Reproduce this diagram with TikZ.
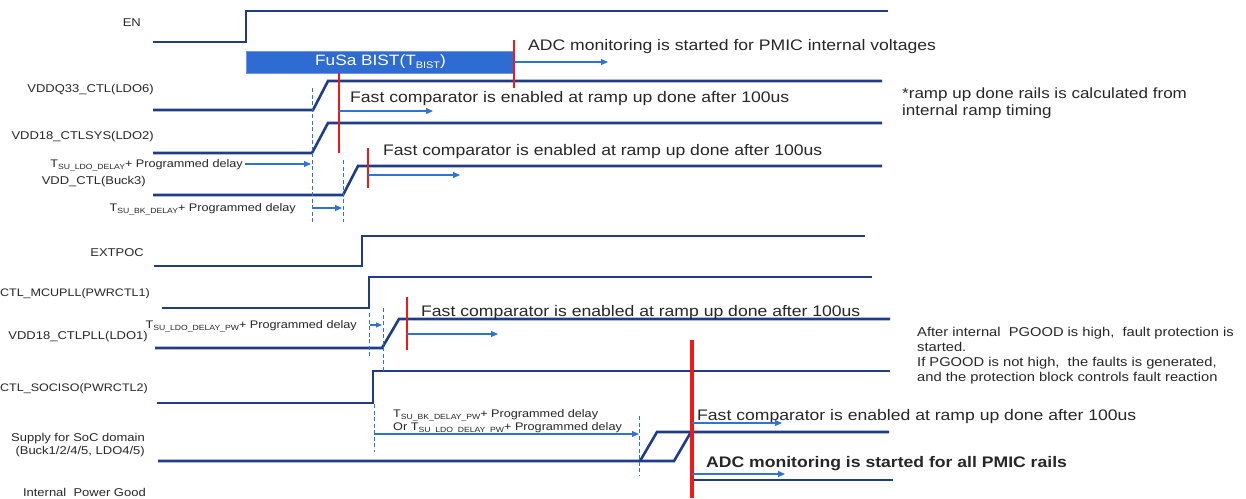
\documentclass[tikz,border=0pt]{standalone}
\usepackage{fontspec}
\setmainfont{Liberation Sans}[FakeStretch=1.15]
\usetikzlibrary{arrows.meta}

\definecolor{sigblue}{HTML}{1F3C88}
\definecolor{hintblue}{HTML}{2F74D4}
\definecolor{bistblue}{HTML}{2E6BD2}
\definecolor{markred}{HTML}{F21818}
\definecolor{txtgray}{HTML}{262626}

\newcommand{\tsub}[2]{#1\raisebox{-0.35ex}{\fontsize{7.5}{8}\selectfont #2}}

\begin{document}
\begin{tikzpicture}[
  x=1pt, y=-1pt,
  every node/.style={inner sep=0pt, text=txtgray},
  signame/.style={anchor=east, font=\fontsize{11.3}{13}\selectfont},
  delaytxt/.style={font=\fontsize{11}{13}\selectfont, align=left},
  bigtxt/.style={anchor=west, font=\fontsize{15.3}{18}\selectfont},
  sig/.style={draw=sigblue, line width=2.6pt},
  guide/.style={draw=hintblue, line width=1pt, dash pattern=on 4pt off 2.5pt},
  arrow/.style={draw=hintblue, line width=1.1pt, -{Triangle[length=7pt, width=6pt]}},
  redbar/.style={draw=markred, line width=1.5pt},
  bist/.style={fill=bistblue, draw=bistblue!70!white, line width=0.8pt, minimum width=268pt, minimum height=22pt, text=white, font=\fontsize{15}{18}\selectfont}
]
\useasboundingbox (0,0) rectangle (1246,498);

% === SIGNAL NAMES ===
\node[signame] (en)     at (141,23)  {EN};
\node[signame] (ldo6)   at (154,90)  {VDDQ33\_CTL(LDO6)};
\node[signame] (ldo2)   at (154,137) {VDD18\_CTLSYS(LDO2)};
\node[signame] (buck3)  at (146,182) {VDD\_CTL(Buck3)};
\node[signame] (extpoc) at (144,253) {EXTPOC};
\node[signame, font=\fontsize{10.9}{13}\selectfont] (mcupll) at (150,294) {CTL\_MCUPLL(PWRCTL1)};
\node[signame] (ldo1)   at (148,337) {VDD18\_CTLPLL(LDO1)};
\node[signame, font=\fontsize{10.9}{13}\selectfont] (sociso) at (148,389) {CTL\_SOCISO(PWRCTL2)};
\node[signame, align=right] (soc) at (145,445.5) {Supply for SoC domain\\(Buck1/2/4/5, LDO4/5)};
\node[signame] (pgood)  at (146,492) {Internal~ Power Good};

% === WAVEFORMS ===
\draw[sig] (153,42) -- (246,42) -- (246,11) -- (888,11);
\draw[sig] (153,110) -- (313,110) -- (328,81) -- (882,81);
\draw[sig] (153,153) -- (312,153) -- (328,123) -- (882,123);
\draw[sig] (153,195) -- (343,195) -- (358,166) -- (882,166);
\draw[sig] (154,266) -- (362,266) -- (362,236) -- (865,236);
\draw[sig] (162,308) -- (369,308) -- (369,277) -- (872,277);
\draw[sig] (155,348) -- (382,348) -- (399,319) -- (890,319);
\draw[sig] (157,403) -- (373,403) -- (373,371) -- (890,371);
\draw[sig] (158,461) -- (674,461) -- (691,432);
\draw[sig] (640,461) -- (657,432) -- (889,432);
\draw[sig] (692,498) -- (692,480) -- (893,480);

% BIST window
\node[bist] (fusa) at (380.5,62) {FuSa BIST(T\raisebox{-0.35ex}{\fontsize{9.5}{10}\selectfont BIST})};

% === DELAY GUIDES ===
\draw[guide] (312,88)  -- (312,222);
\draw[guide] (343,160) -- (343,222);
\draw[guide] (369,313) -- (369,358);
\draw[guide] (383,308) -- (383,372);
\draw[guide] (374,404) -- (374,452);
\draw[guide] (639,416) -- (639,476);

\node[delaytxt, anchor=east] (dly1) at (243,165) {\tsub{T}{SU\_LDO\_DELAY}+ Programmed delay};
\node[delaytxt, anchor=east] (dly2) at (296,209) {\tsub{T}{SU\_BK\_DELAY}+ Programmed delay};
\node[delaytxt, anchor=east] (dly3) at (357,326) {\tsub{T}{SU\_LDO\_DELAY\_PW}+ Programmed delay};
\node[delaytxt, anchor=west] (dly4) at (393,421.5) {\tsub{T}{SU\_BK\_DELAY\_PW}+ Programmed delay\\Or \tsub{T}{SU\_LDO\_DELAY\_PW}+ Programmed delay};

\draw[arrow] (245,164) -- (311,164);
\draw[arrow] (313,208) -- (342,208);
\draw[arrow, -{Triangle[length=6pt, width=5pt]}] (370,325) -- (382,325);
\draw[arrow] (374,434) -- (639,434);

% === MONITORING START POINTS ===
\draw[redbar] (514,40)  -- (514,88);
\draw[redbar] (339,73)  -- (339,153);
\draw[redbar] (368,148) -- (368,188);
\draw[redbar] (407,297) -- (407,350);
\draw[redbar, line width=3.8pt] (692,340) -- (692,498);

\node[bigtxt] (adcint) at (528,47)  {ADC monitoring is started for PMIC internal voltages};
\node[bigtxt] (fc1)    at (350,99)  {Fast comparator is enabled at ramp up done after 100us};
\node[bigtxt] (fc2)    at (383,152) {Fast comparator is enabled at ramp up done after 100us};
\node[bigtxt] (fc3)    at (421,313) {Fast comparator is enabled at ramp up done after 100us};
\node[bigtxt] (fc4)    at (697,417) {Fast comparator is enabled at ramp up done after 100us};
\node[bigtxt, font=\fontsize{15.3}{18}\selectfont\bfseries] (adcall) at (706,464) {ADC monitoring is started for all PMIC rails};

\draw[arrow] (514,62)  -- (608,62);
\draw[arrow] (339,111) -- (433,111);
\draw[arrow] (368,175) -- (460,175);
\draw[arrow] (407,334) -- (498,334);
\draw[arrow] (692,423) -- (782,423);
\draw[arrow] (692,474) -- (785,474);

% === NOTES ===
\node[anchor=west, align=left, font=\fontsize{14.8}{17}\selectfont] (ramp) at (902,103.5)
  {*ramp up done rails is calculated from\\internal ramp timing};
\node[anchor=west, align=left, font=\fontsize{12.8}{15}\selectfont] (prot) at (917,355.5)
  {After internal~ PGOOD is high,~ fault protection is\\started.\\If PGOOD is not high,~ the faults is generated,\\and the protection block controls fault reaction};

\end{tikzpicture}
\end{document}
